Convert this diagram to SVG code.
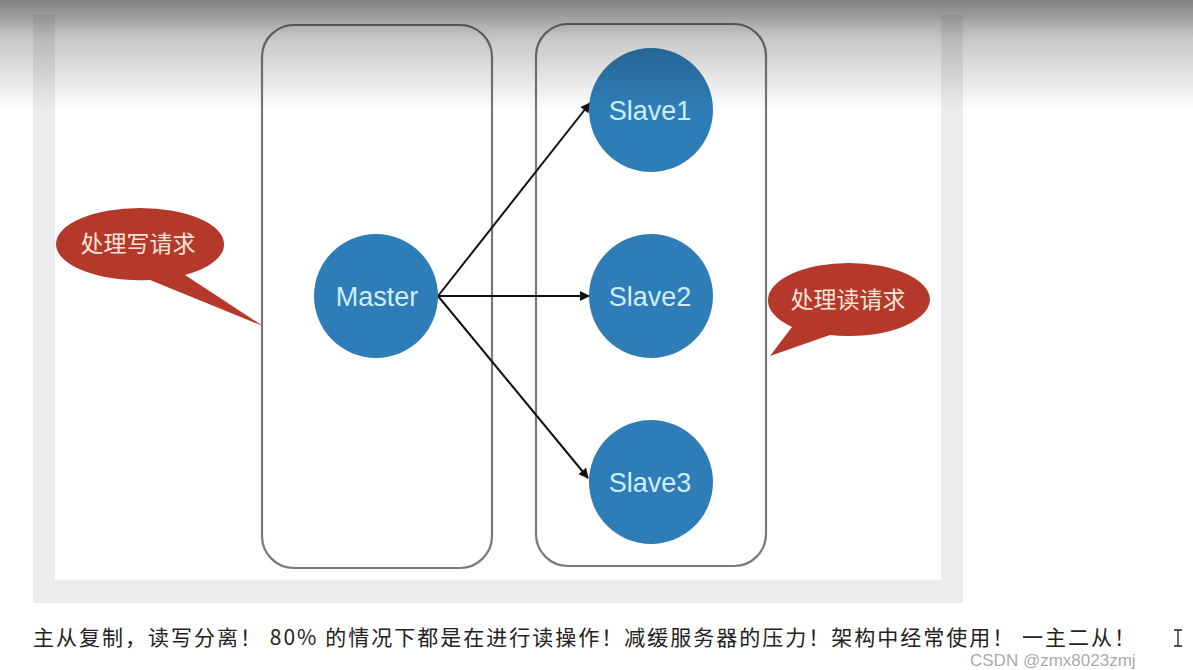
<svg xmlns="http://www.w3.org/2000/svg" width="1193" height="670" viewBox="0 0 1193 670">
<defs>
<linearGradient id="topShade" x1="0" y1="0" x2="0" y2="1">
<stop offset="0" stop-color="#000" stop-opacity="0.5"/>
<stop offset="0.35" stop-color="#000" stop-opacity="0.22"/>
<stop offset="1" stop-color="#000" stop-opacity="0"/>
</linearGradient>
<marker id="arr" viewBox="0 0 10 10" refX="9" refY="5" markerWidth="13" markerHeight="10" orient="auto" markerUnits="userSpaceOnUse">
<path d="M0,0 L10,5 L0,10 z" fill="#111"/>
</marker>
<style>
.box{fill:none;stroke:#7a7a7a;stroke-width:2.2}
.node{fill:#2f7db6}
.nt{font-family:"Liberation Sans",Arial,sans-serif;font-size:27px;fill:#cdeefc;text-anchor:middle}
.bub{fill:#b5392a}
.bt{font-family:"Noto Sans CJK SC",sans-serif;font-size:23px;fill:#f6e4dc;text-anchor:middle}
.edge{stroke:#111;stroke-width:2;fill:none;marker-end:url(#arr)}
</style>
</defs>
<rect width="1193" height="670" fill="#fff"/>
<rect x="33" y="15" width="930" height="588" fill="#ececec"/>
<rect x="55" y="15" width="886" height="565" fill="#fff"/>
<g id="master-box"><rect class="box" x="262" y="25" width="230" height="543" rx="32"/></g>
<g id="slave-box"><rect class="box" x="536" y="24" width="230" height="542" rx="32"/></g>
<g id="connectors">
<line class="edge" x1="438" y1="296" x2="590" y2="103"/>
<line class="edge" x1="438" y1="296" x2="589" y2="296"/>
<line class="edge" x1="438" y1="296" x2="588" y2="478"/>
</g>
<g id="master"><circle class="node" cx="376" cy="296" r="62"/><text class="nt" x="377" y="306">Master</text></g>
<g id="slave1"><circle class="node" cx="651" cy="110" r="62"/><text class="nt" x="650" y="120">Slave1</text></g>
<g id="slave2"><circle class="node" cx="651" cy="296" r="62"/><text class="nt" x="650" y="306">Slave2</text></g>
<g id="slave3"><circle class="node" cx="651" cy="482" r="62"/><text class="nt" x="650" y="492">Slave3</text></g>
<g id="write-bubble">
<path class="bub" d="M56,244 A84,36 0 0 1 224,244 A84,36 0 0 1 185,275 L263,326 L150,280 A84,36 0 0 1 56,244 z"/>
<text class="bt" x="138" y="252">处理写请求</text>
</g>
<g id="read-bubble">
<path class="bub" d="M768,300 A81,37 0 0 1 930,300 A81,37 0 0 1 830,335 L770,356 L792,327 A81,37 0 0 1 768,300 z"/>
<text class="bt" x="848" y="308">处理读请求</text>
</g>
<rect x="0" y="0" width="1193" height="110" fill="url(#topShade)"/>
<text x="33" y="645" font-family="Noto Sans CJK SC, sans-serif" font-size="21" fill="#222" textLength="1102" lengthAdjust="spacing">主从复制，读写分离！ 80% 的情况下都是在进行读操作！减缓服务器的压力！架构中经常使用！ 一主二从！</text>
<text x="970" y="666" font-family="Liberation Sans, Arial, sans-serif" font-size="17" fill="#999" fill-opacity="0.85">CSDN @zmx8023zmj</text>
<path d="M1174,630 H1182 M1178,630 V646 M1174,646 H1182" stroke="#222" stroke-width="1.3" fill="none"/>
</svg>
